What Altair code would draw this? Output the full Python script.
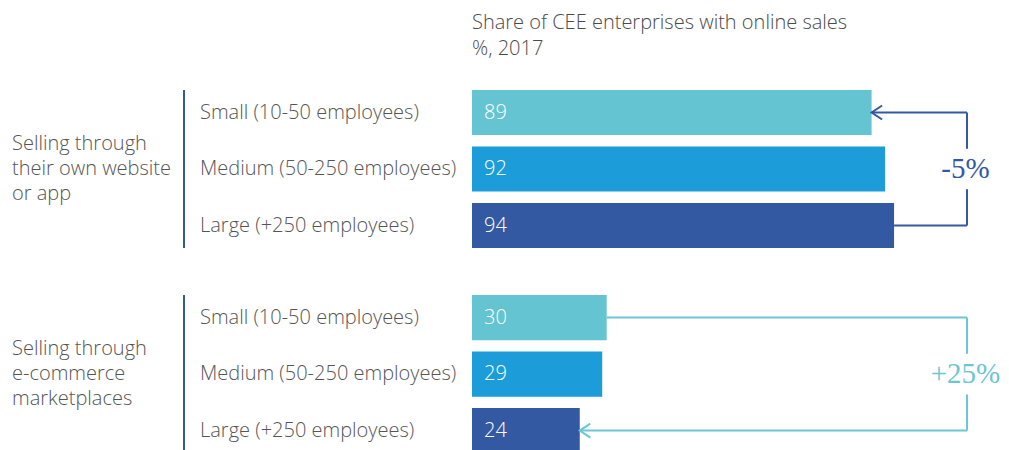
import altair as alt
import pandas as pd

# ---------------- data ----------------
title_lines = ["Share of CEE enterprises with online sales", "%, 2017"]
groups = ["Selling through\ntheir own website\nor app", "Selling through\ne-commerce\nmarketplaces"]
sizes = ["Small (10-50 employees)", "Medium (50-250 employees)", "Large (+250 employees)"]
own_site = [89, 92, 94]
marketplaces = [30, 29, 24]
changes = ["-5%", "+25%"]
# bracket direction: (from size index, to size index) — arrow points at "to"
bracket_from_to = [(2, 0), (0, 2)]

# ---------------- styling / layout ----------------
size_colors = ["#65c4d1", "#1c9dd9", "#3259a1"]
bracket_colors = ["#3459a3", "#6cc6d3"]
rule_color = "#3459a3"
text_color = "#555555"
SANS = "Open Sans"
SERIF = "Liberation Serif"
FS = 20
FW = 300

W, H = 529, 442
PX_PER_UNIT = 4.49
ROW_PX = 56.5
FIRST_ROW_CENTER = 112.5 - 8          # in chart pixels
GROUP_STEP = 3.63                     # in row units
BAR_HALF = 0.4
BRACKET_X = 495                       # chart pixels
GAP = 0.36                            # row units around percent label

top_slot = -FIRST_ROW_CENTER / ROW_PX
xs = alt.Scale(domain=[0, W / PX_PER_UNIT], nice=False, zero=False)
ys = alt.Scale(domain=[top_slot, top_slot + H / ROW_PX], nice=False, zero=False, reverse=True)

series = [own_site, marketplaces]
rows = []
for gi, vals in enumerate(series):
    for si, (s, v) in enumerate(zip(sizes, vals)):
        slot = gi * GROUP_STEP + si
        rows.append({"size": s, "value": v, "x0": 0, "slot": slot,
                     "top": slot - BAR_HALF, "bot": slot + BAR_HALF})
rows = pd.DataFrame(rows)

X = lambda f: alt.X(f, scale=xs, axis=None)
Y = lambda f: alt.Y(f, scale=ys, axis=None)

bars = alt.Chart(rows).mark_bar().encode(
    x=X("x0:Q"), x2="value:Q", y=Y("top:Q"), y2="bot:Q",
    color=alt.Color("size:N", scale=alt.Scale(domain=sizes, range=size_colors), legend=None),
)
values = alt.Chart(rows).mark_text(align="left", baseline="middle", color="white",
                                   font=SANS, fontSize=FS, fontWeight=FW).encode(
    x=alt.value(12), y=Y("slot:Q"), text="value:Q")
cats = alt.Chart(rows).mark_text(align="left", baseline="middle", color=text_color,
                                 font=SANS, fontSize=FS, fontWeight=FW).encode(
    x=alt.value(-272), y=Y("slot:Q"), text="size:N")

gdf = pd.DataFrame({
    "label": groups,
    "center": [gi * GROUP_STEP + 1 for gi in range(len(groups))],
    "top": [gi * GROUP_STEP - BAR_HALF for gi in range(len(groups))],
    "bot": [gi * GROUP_STEP + 2 + BAR_HALF for gi in range(len(groups))],
})
glabels = alt.Chart(gdf).mark_text(align="left", baseline="middle", color=text_color,
                                   font=SANS, fontSize=FS, fontWeight=FW,
                                   lineBreak="\n", lineHeight=25, dy=-25).encode(
    x=alt.value(-460), y=Y("center:Q"), text="label:N")
grules = alt.Chart(gdf).mark_rule(color=rule_color, strokeWidth=2).encode(
    x=alt.value(-288), y=Y("top:Q"), y2="bot:Q")

layers = [bars, values, cats, glabels, grules]

for gi, vals in enumerate(series):
    c = bracket_colors[gi]
    fi, ti = bracket_from_to[gi]
    s_from = gi * GROUP_STEP + fi
    s_to = gi * GROUP_STEP + ti
    mid = gi * GROUP_STEP + 1
    hdf = pd.DataFrame({"xv": [vals[fi], vals[ti]], "slot": [s_from, s_to]})
    layers.append(alt.Chart(hdf).mark_rule(color=c, strokeWidth=2).encode(
        x=X("xv:Q"), x2=alt.value(BRACKET_X), y=Y("slot:Q")))
    lo, hi = min(s_from, s_to), max(s_from, s_to)
    vdf = pd.DataFrame({"a": [lo, mid + GAP], "b": [mid - GAP, hi]})
    layers.append(alt.Chart(vdf).mark_rule(color=c, strokeWidth=2).encode(
        x=alt.value(BRACKET_X), y=Y("a:Q"), y2="b:Q"))
    adf = pd.DataFrame({"xv": [vals[ti]], "slot": [s_to]})
    layers.append(alt.Chart(adf).mark_point(shape="M1.5,-1L0,0L1.5,1", filled=False, size=196,
                                            strokeWidth=2, color=c, opacity=1).encode(
        x=X("xv:Q"), y=Y("slot:Q")))
    pdf = pd.DataFrame({"t": [changes[gi]], "slot": [mid]})
    layers.append(alt.Chart(pdf).mark_text(font=SERIF, fontSize=29, align="center",
                                           baseline="middle", color=c).encode(
        x=alt.value(BRACKET_X - 1.5), y=Y("slot:Q"), text="t:N"))

tdf = pd.DataFrame({"t": ["\n".join(title_lines)]})
layers.append(alt.Chart(tdf).mark_text(align="left", baseline="alphabetic", color="#4a4a4a",
                                       font=SANS, fontSize=FS, fontWeight=FW,
                                       lineBreak="\n", lineHeight=26).encode(
    x=alt.value(0), y=alt.value(21), text="t:N"))

chart = alt.layer(*layers).properties(
    width=W, height=H,
    padding={"left": 464, "top": 0, "right": 0, "bottom": 0},
    autosize=alt.AutoSizeParams(type="none"),
).configure_view(stroke=None)

chart.save("out.html", embed_options={"renderer": "svg", "actions": False})
